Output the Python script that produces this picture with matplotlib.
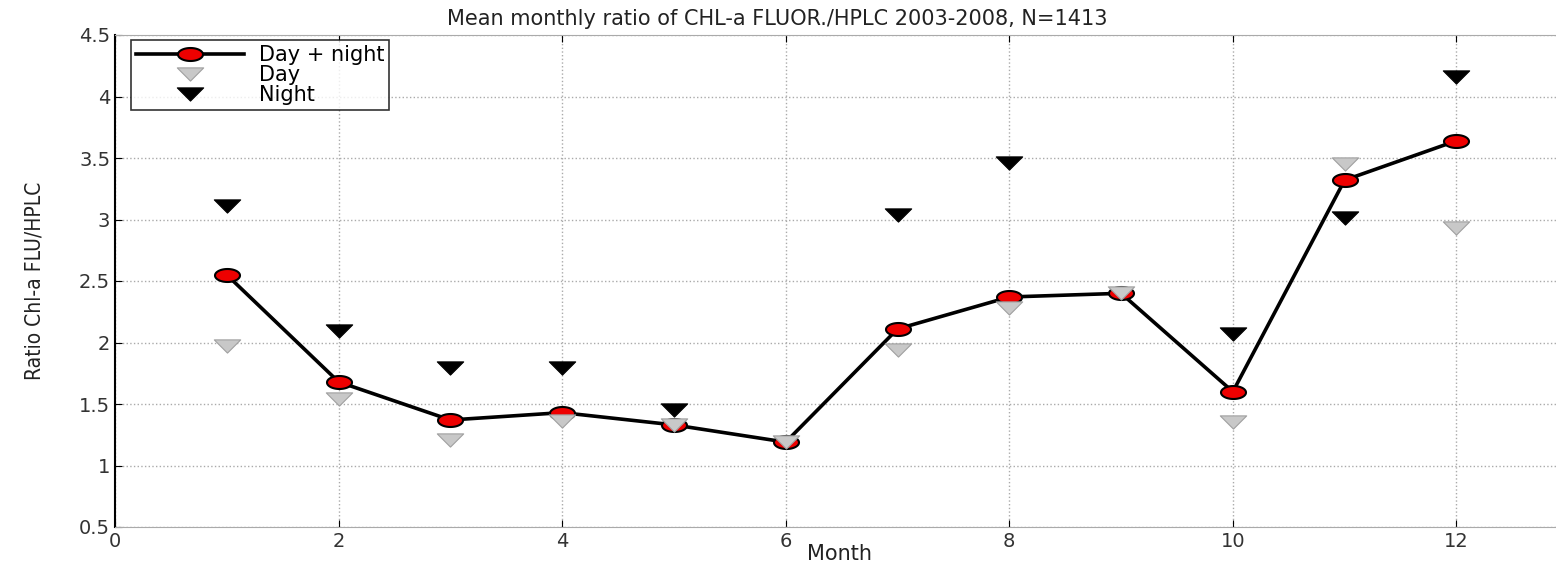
import numpy as np
import matplotlib
matplotlib.use("Agg")
import matplotlib.pyplot as plt
from matplotlib.path import Path

# Monthly mean ratio values
months = [1, 2, 3, 4, 5, 6, 7, 8, 9, 10, 11, 12]
ratio_all = [2.55, 1.68, 1.37, 1.43, 1.33, 1.19, 2.11, 2.37, 2.40, 1.60, 3.32, 3.64]
ratio_day = [1.97, 1.54, 1.21, 1.36, 1.33, 1.19, 1.94, 2.28, 2.40, 1.35, 3.45, 2.93]
night_months = [1, 2, 3, 4, 5, 7, 8, 10, 11, 12]
ratio_night = [3.11, 2.09, 1.79, 1.79, 1.45, 3.04, 3.46, 2.07, 3.01, 4.16]

xticks = [0, 2, 4, 6, 8, 10, 12]
yticks = [0.5, 1, 1.5, 2, 2.5, 3, 3.5, 4, 4.5]

plt.rcParams['font.family'] = ['DejaVu Sans']

# squashed markers (original picture is horizontally stretched)
t = np.linspace(0, 2 * np.pi, 60)
ellipse = Path(np.column_stack([np.cos(t), 0.52 * np.sin(t)]), closed=True)
tri_down = Path([(-1, 0.5), (1, 0.5), (0, -0.5), (-1, 0.5)], closed=True)

fig = plt.figure(figsize=(15.56, 5.64), dpi=100)
ax = fig.add_axes([115 / 1556, 1 - 527 / 564, 1565 / 1556, 492 / 564])

ax.plot(months, ratio_all, color='black', lw=2.6, marker=ellipse, ms=18,
        mfc='#ee0000', mec='black', mew=1.5, label='Day + night', zorder=3)
ax.plot(months, ratio_day, ls='none', marker=tri_down, ms=19,
        mfc='#c8c8c8', mec='#a0a0a0', mew=0.8, label='Day', zorder=4)
ax.plot(night_months, ratio_night, ls='none', marker=tri_down, ms=19,
        mfc='black', mec='black', mew=0.8, label='Night', zorder=4)

ax.set_xlim(0, 14)
ax.set_ylim(0.5, 4.5)
ax.set_xticks(xticks)
ax.set_yticks(yticks)
ax.set_yticklabels(['0.5', '1', '1.5', '2', '2.5', '3', '3.5', '4', '4.5'])
ax.tick_params(direction='in', top=True, right=True, length=5, labelsize=14,
               colors='black', labelcolor='#333333')
ax.grid(True, ls=':', color='#aaaaaa', lw=1.0)
for side in ['top', 'right']:
    ax.spines[side].set_color('#aaaaaa')
ax.spines['left'].set_linewidth(1.5)
ax.spines['bottom'].set_color('#aaaaaa')

ax.set_title('Mean monthly ratio of CHL-a FLUOR./HPLC 2003-2008, N=1413',
             fontsize=15, x=0.423, pad=7, color='#222222')
ax.set_xlabel('Month', fontsize=15, color='#222222')
ax.xaxis.set_label_coords(0.463, -0.035)
ax.set_ylabel('Ratio Chl-a FLU/HPLC', fontsize=15, color='#222222',
              fontstretch='condensed')
ax.yaxis.set_label_coords(-0.045, 0.5)

leg = ax.legend(loc='upper left', bbox_to_anchor=(0.01, 0.99), fontsize=15,
                frameon=True, fancybox=False, edgecolor='black', borderpad=0.25,
                labelspacing=0.0, handlelength=5.2, handletextpad=0.7,
                borderaxespad=0)
leg.get_frame().set_linewidth(1.2)

fig.savefig('out.png', dpi=100)
